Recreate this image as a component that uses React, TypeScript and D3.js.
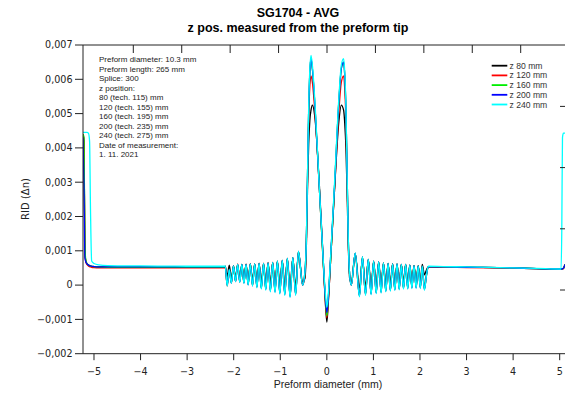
import React from "react";
import * as d3 from "d3";

const W = 565;
const H = 393;

const titleLines = ["SG1704 - AVG", "z pos. measured from the preform tip"];
const xAxisTitle = "Preform diameter (mm)";
const yAxisTitle = "RID (Δn)";

const annotationLines = [
  "Preform diameter: 10.3 mm",
  "Preform length: 265 mm",
  "Splice: 300",
  "z position:",
  "80 (tech. 115) mm",
  "120 (tech. 155) mm",
  "160 (tech. 195) mm",
  "200 (tech. 235) mm",
  "240 (tech. 275) mm",
  "Date of measurement:",
  "1. 11. 2021",
];

const seriesNames = ["z 80 mm", "z 120 mm", "z 160 mm", "z 200 mm", "z 240 mm"];
const seriesColors = ["#000000", "#ff0000", "#00ee00", "#0000ff", "#00ffff"];

const xTickValues = [-5, -4, -3, -2, -1, 0, 1, 2, 3, 4, 5];
const yTickValues = [0.007, 0.006, 0.005, 0.004, 0.003, 0.002, 0.001, 0, -0.001, -0.002];
const topTickValues = [-4, -3, -2, -1, 0, 1, 2, 3, 4];
const rightTickValues = [1, 2, 3, 4];

// shared x grid (preform diameter, mm)
const diameter = [
  -5.236, -5.215, -5.195, -5.175, -5.15, -5.12, -5.095, -5.075, -5.05, -5.0, -4.9, -4.7, -4.0, -3.0, -2.5, -2.2,
  -2.18, -2.14, -2.095, -2.05, -2.005, -1.96, -1.915, -1.87, -1.825, -1.78, -1.735, -1.69, -1.643, -1.596, -1.549,
  -1.502, -1.455, -1.407, -1.359, -1.311, -1.262, -1.213, -1.163, -1.113, -1.062, -1.01, -0.957, -0.903, -0.848,
  -0.79, -0.73, -0.67, -0.61, -0.52,
  -0.47, -0.44, -0.415, -0.39, -0.365, -0.34, -0.31, -0.25, -0.16, -0.08, -0.04, 0, 0.04, 0.08, 0.17, 0.26, 0.31,
  0.36, 0.385, 0.41, 0.435, 0.46, 0.49,
  0.525, 0.61, 0.7, 0.765, 0.83, 0.89, 0.95, 1.005, 1.06, 1.113, 1.165, 1.216, 1.266, 1.315, 1.364, 1.412, 1.46,
  1.507, 1.554, 1.6, 1.646, 1.692, 1.737, 1.782, 1.827, 1.872, 1.917, 1.962, 2.007, 2.05, 2.095, 2.14, 2.18,
  2.5, 3.0, 4.0, 4.5, 5.0, 5.03, 5.045, 5.06, 5.08, 5.114,
];

const z80 = [
  0.0044, 0.0042, 0.001, 0.0007, 0.00062, 0.00058, 0.00056, 0.00055, 0.00054, 0.00053, 0.00052, 0.00052, 0.00052, 0.00052, 0.00052, 0.00052,
  0.00055, 0.00025, 0.00058, 0.0002, 0.00055, 0.00022, 0.00058, 0.0002, 0.00058, 0.00018, 0.0006, 0.00016, 0.0006, 0.00014, 0.0006,
  0.00012, 0.00062, 0.0001, 0.00062, 0.00008, 0.00064, 0.00006, 0.00065, 0.00004, 0.00068, 0.00002, 0.0007, -0.00002, 0.00075,
  -0.00008, 0.00078, -0.00005, 0.00095, 0.0001,
  0.0002, 0.0011, 0.0028, 0.0041, 0.0048, 0.0051, 0.00525, 0.0048, 0.0029, 0.0008, -0.0003, -0.00108, -0.0003, 0.0007, 0.0029, 0.0048, 0.00525,
  0.0051, 0.0047, 0.004, 0.0027, 0.0012, 0.0002,
  0.0001, 0.0009, -0.00008, 0.00078, -0.00005, 0.00073, -0.00003, 0.00068, 0.0, 0.00066, 0.00002, 0.00064, 0.00004, 0.00062, 0.00005, 0.00062, 0.00006,
  0.00061, 0.00007, 0.0006, 0.00008, 0.0006, 0.00008, 0.00058, 0.00009, 0.00057, 0.0001, 0.00057, 0.0001, 0.0006, 0.0003, 0.00045, 0.00054,
  0.00053, 0.00052, 0.0005, 0.00048, 0.00047, 0.00047, 0.00047, 0.00048, 0.00049, 0.0006,
];

const z120 = [
  0.0044, 0.0041, 0.0009, 0.00068, 0.0006, 0.00056, 0.00054, 0.00053, 0.00052, 0.00051, 0.0005, 0.0005, 0.0005, 0.0005, 0.0005, 0.0005,
  0.0005, -0.00003, 0.00045, 0.00006, 0.00055, 0.0001, 0.00062, 0.00009, 0.0006, 0.00007, 0.00062, 0.00003, 0.00063, 0.0, 0.00062,
  -0.00004, 0.00064, -0.00007, 0.00064, -0.0001, 0.00066, -0.00014, 0.00067, -0.00016, 0.0007, -0.0002, 0.00072, -0.00024, 0.00078,
  -0.0003, 0.0008, -0.00025, 0.00097, 0.0,
  0.0003, 0.0012, 0.003, 0.0048, 0.0058, 0.0061, 0.0059, 0.0049, 0.0028, 0.0007, -0.0003, -0.00095, -0.0003, 0.0007, 0.0029, 0.0051, 0.0059,
  0.0061, 0.0057, 0.0048, 0.0031, 0.0013, 0.0003,
  0.0, 0.00092, -0.0003, 0.0008, -0.00026, 0.00075, -0.00024, 0.0007, -0.00021, 0.00068, -0.00019, 0.00065, -0.00016, 0.00063, -0.00014, 0.00062, -0.00012,
  0.00062, -0.0001, 0.0006, -0.00008, 0.0006, -0.00008, 0.00058, -0.00006, 0.00057, -0.00006, 0.00056, -0.00006, 0.00055, -0.0001, 0.0003, 0.00053,
  0.00052, 0.00051, 0.00049, 0.00048, 0.00046, 0.00046, 0.00046, 0.00047, 0.00048, 0.0006,
];

const z160 = [
  0.0044, 0.0043, 0.0012, 0.00072, 0.00063, 0.00059, 0.00057, 0.00056, 0.00055, 0.00054, 0.00053, 0.00052, 0.00052, 0.00052, 0.00052, 0.00052,
  0.00052, 0.00001, 0.00046, 0.00008, 0.00056, 0.00012, 0.0006, 0.0001, 0.0006, 0.00007, 0.0006, 0.00002, 0.00062, -0.00001, 0.00062,
  -0.00005, 0.00063, -0.00009, 0.00063, -0.00012, 0.00065, -0.00016, 0.00066, -0.00018, 0.0007, -0.00022, 0.00072, -0.00026, 0.00078,
  -0.00032, 0.0008, -0.00027, 0.00098, 0.0,
  0.0004, 0.0013, 0.0032, 0.0051, 0.0062, 0.0066, 0.0063, 0.0051, 0.0028, 0.0007, -0.0002, -0.0009, -0.0002, 0.0007, 0.003, 0.0054, 0.0063,
  0.0065, 0.0061, 0.0051, 0.0033, 0.0014, 0.0003,
  0.0, 0.00093, -0.00031, 0.00082, -0.00027, 0.00075, -0.00025, 0.0007, -0.00022, 0.00068, -0.0002, 0.00065, -0.00017, 0.00063, -0.00015, 0.00062, -0.00013,
  0.00062, -0.00011, 0.0006, -0.00009, 0.0006, -0.00009, 0.00058, -0.00007, 0.00057, -0.00007, 0.00056, -0.00007, 0.00055, -0.00012, 0.0003, 0.00054,
  0.00053, 0.00052, 0.0005, 0.00048, 0.00047, 0.00047, 0.00047, 0.00048, 0.00049, 0.0006,
];

const z200 = [
  0.0043, 0.003, 0.0008, 0.00068, 0.00062, 0.00059, 0.00057, 0.00056, 0.00055, 0.00054, 0.00053, 0.00053, 0.00053, 0.00053, 0.00053, 0.00053,
  0.00053, 0.0, 0.00045, 0.00006, 0.00056, 0.0001, 0.0006, 0.00009, 0.0006, 0.00006, 0.0006, 0.00001, 0.00062, -0.00002, 0.00062,
  -0.00006, 0.00063, -0.0001, 0.00063, -0.00013, 0.00065, -0.00018, 0.00066, -0.0002, 0.0007, -0.00024, 0.00072, -0.00028, 0.00078,
  -0.00034, 0.0008, -0.00028, 0.00098, 0.0,
  0.0004, 0.0013, 0.0032, 0.0051, 0.0062, 0.0066, 0.0063, 0.0051, 0.0028, 0.0008, -0.0002, -0.0008, -0.0002, 0.0008, 0.003, 0.0054, 0.0063,
  0.0065, 0.0061, 0.0051, 0.0033, 0.0014, 0.0003,
  0.0, 0.00093, -0.00032, 0.00082, -0.00028, 0.00075, -0.00026, 0.0007, -0.00023, 0.00068, -0.00021, 0.00065, -0.00018, 0.00063, -0.00016, 0.00062, -0.00014,
  0.00062, -0.00012, 0.0006, -0.0001, 0.0006, -0.0001, 0.00058, -0.00008, 0.00057, -0.00008, 0.00056, -0.00008, 0.00055, -0.00013, 0.0003, 0.00054,
  0.00053, 0.00052, 0.0005, 0.00048, 0.00047, 0.00047, 0.00047, 0.00048, 0.00049, 0.0006,
];

const z240 = [
  0.00445, 0.00445, 0.00445, 0.00445, 0.00445, 0.00443, 0.0042, 0.0022, 0.0007, 0.00063, 0.00059, 0.00057, 0.00056, 0.00055, 0.00055, 0.00055,
  0.00055, -0.00003, 0.00045, 0.00005, 0.00055, 0.0001, 0.0006, 0.00008, 0.0006, 0.00005, 0.0006, 0.0, 0.00062, -0.00003, 0.00062,
  -0.00008, 0.00063, -0.00012, 0.00063, -0.00015, 0.00065, -0.0002, 0.00066, -0.00022, 0.0007, -0.00026, 0.00072, -0.0003, 0.00078,
  -0.00036, 0.0008, -0.0003, 0.00098, 0.0,
  0.0004, 0.0013, 0.0032, 0.0052, 0.0063, 0.0067, 0.0064, 0.0052, 0.0028, 0.0008, -0.0001, -0.00065, -0.0001, 0.0008, 0.0031, 0.0055, 0.0064,
  0.0066, 0.0062, 0.0052, 0.0033, 0.0014, 0.0003,
  0.0, 0.00093, -0.00034, 0.00082, -0.0003, 0.00075, -0.00028, 0.0007, -0.00025, 0.00068, -0.00023, 0.00065, -0.0002, 0.00063, -0.00018, 0.00062, -0.00016,
  0.00062, -0.00014, 0.0006, -0.00012, 0.0006, -0.00012, 0.00058, -0.0001, 0.00057, -0.0001, 0.00056, -0.0001, 0.00055, -0.00015, 0.0003, 0.00055,
  0.00054, 0.00053, 0.0005, 0.00049, 0.00047, 0.00047, 0.0016, 0.0043, 0.00443, 0.00443,
];

const seriesValues = [z80, z120, z160, z200, z240];

const M = { left: 83, right: 565, top: 45, bottom: 353.7 };

const x = d3.scaleLinear().domain([-5.236, 5.114]).range([M.left, M.right]);
const y = d3.scaleLinear().domain([-0.002, 0.007]).range([M.bottom, M.top]);
const xTop = d3.scaleLinear().domain([-4, 4]).range([133.3, 520.7]);
const yRight = d3.scaleLinear().domain([0, 5]).range([351.2, 45.2]);

const fmtY = (v: number) => {
  if (Math.abs(v) < 1e-12) return "0";
  const s = Math.abs(v).toFixed(3).replace(".", ",");
  return v < 0 ? "\u2212" + s : s;
};
const fmtX = (v: number) => (v < 0 ? "\u2212" + Math.abs(v) : String(v));

const tickFont = "'DejaVu Sans', Verdana, sans-serif";
const textFont = "'Liberation Sans', Arial, sans-serif";

export default function App() {
  const line = d3
    .line<[number, number]>()
    .x((d) => x(d[0]))
    .y((d) => y(d[1]))
    .curve(d3.curveMonotoneX);

  const paths = seriesValues.map((vals) =>
    line(diameter.map((d, i) => [d, vals[i]] as [number, number]))
  );

  return (
    <svg
      width={W}
      height={H}
      style={{ position: "absolute", left: 0, top: 0, background: "#fff" }}
    >
      <defs>
        <clipPath id="plotClip">
          <rect x={M.left} y={M.top} width={M.right - M.left} height={M.bottom - M.top} />
        </clipPath>
      </defs>
      <rect x={0} y={0} width={W} height={H} fill="#fff" />

      {/* titles */}
      <text x={298} y={16.5} textAnchor="middle" fontFamily={textFont} fontWeight="bold" fontSize={12.5} fill="#000">
        {titleLines[0]}
      </text>
      <text x={298} y={31.5} textAnchor="middle" fontFamily={textFont} fontWeight="bold" fontSize={12.5} fill="#000">
        {titleLines[1]}
      </text>

      {/* data */}
      <g clipPath="url(#plotClip)">
        {paths.map((p, i) => (
          <path key={i} d={p || ""} fill="none" stroke={seriesColors[i]} strokeWidth={1.3} strokeLinejoin="round" />
        ))}
      </g>

      {/* frame lines */}
      <g stroke="#222" strokeWidth={1} fill="none">
        <line x1={M.left} x2={M.left} y1={M.top} y2={M.bottom} />
        <line x1={M.left} x2={M.right} y1={M.top} y2={M.top} />
        <line x1={M.left} x2={M.right} y1={M.bottom} y2={M.bottom} />
      </g>

      {/* left axis */}
      {yTickValues.map((v) => (
        <g key={"y" + v}>
          <line x1={75} x2={M.left} y1={y(v)} y2={y(v)} stroke="#222" strokeWidth={1} />
          <text x={72.5} y={y(v)} dy="0.35em" textAnchor="end" fontFamily={tickFont} fontSize={9.6} fill="#222">
            {fmtY(v)}
          </text>
        </g>
      ))}

      {/* bottom axis */}
      {xTickValues.map((v) => (
        <g key={"x" + v}>
          <line x1={x(v)} x2={x(v)} y1={M.bottom} y2={M.bottom + 6.5} stroke="#222" strokeWidth={1} />
          <text x={x(v)} y={375} textAnchor="middle" fontFamily={tickFont} fontSize={9.6} fill="#222">
            {fmtX(v)}
          </text>
        </g>
      ))}

      {/* top ticks */}
      {topTickValues.map((v) => (
        <line key={"t" + v} x1={xTop(v)} x2={xTop(v)} y1={M.top} y2={M.top + 8} stroke="#222" strokeWidth={1} />
      ))}

      {/* right ticks */}
      {rightTickValues.map((v) => (
        <line key={"r" + v} x1={560} x2={565} y1={yRight(v)} y2={yRight(v)} stroke="#222" strokeWidth={1} />
      ))}

      {/* axis titles */}
      <text x={328} y={388} textAnchor="middle" fontFamily={textFont} fontSize={10.5} fill="#222">
        {xAxisTitle}
      </text>
      <text
        transform={`translate(25, 199) rotate(-90)`}
        textAnchor="middle"
        dy="0.35em"
        fontFamily={tickFont}
        fontSize={10}
        fill="#222"
      >
        {yAxisTitle}
      </text>

      {/* annotation */}
      {annotationLines.map((t, i) => (
        <text key={"a" + i} x={99} y={62 + i * 9.5} fontFamily={textFont} fontSize={8} fill="#222">
          {t}
        </text>
      ))}

      {/* legend */}
      {seriesNames.map((n, i) => (
        <g key={"l" + i}>
          <line x1={491.7} x2={507.3} y1={65.7 + i * 9.7} y2={65.7 + i * 9.7} stroke={seriesColors[i]} strokeWidth={1.8} />
          <text x={509.5} y={65.7 + i * 9.7} dy="0.35em" fontFamily={textFont} fontSize={8.6} fill="#333">
            {n}
          </text>
        </g>
      ))}
    </svg>
  );
}
